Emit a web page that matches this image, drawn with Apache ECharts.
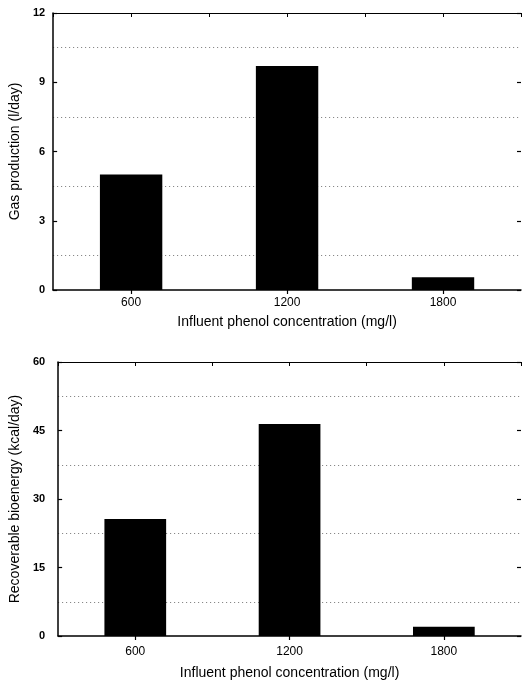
<!DOCTYPE html>
<html>
<head>
<meta charset="utf-8">
<script src="https://cdn.jsdelivr.net/npm/echarts@6/dist/echarts.min.js"></script>
<style>html,body{margin:0;padding:0;background:#fff;}#c{width:522px;height:681px;}</style>
</head>
<body>
<div id="c"></div>
<script>
var categories = ['600', '1200', '1800'];
var gasProduction = [5.0, 9.7, 0.55];
var bioenergy = [25.6, 46.4, 2.0];
var xAxisTitle = 'Influent phenol concentration (mg/l)';
var gasTitle = 'Gas production (l/day)';
var energyTitle = 'Recoverable bioenergy (kcal/day)';

var FONT = 'Liberation Sans';
var chart = echarts.init(document.getElementById('c'));

function bottomX(gi, margin, gap) {
  return {
    type: 'category', gridIndex: gi, data: categories, position: 'bottom',
    axisLine: {show: true, onZero: false, lineStyle: {color: '#000', width: 1.5}},
    axisTick: {show: true, alignWithLabel: true, inside: false, length: 4, lineStyle: {color: '#000', width: 1.2}},
    axisLabel: {color: '#000', fontFamily: FONT, fontSize: 12, margin: margin},
    splitLine: {show: false},
    name: xAxisTitle, nameLocation: 'middle', nameGap: gap,
    nameTextStyle: {color: '#000', fontFamily: FONT, fontSize: 14}
  };
}
function topX(gi) {
  return {
    type: 'value', gridIndex: gi, position: 'top', min: 0, max: 6, interval: 1,
    axisLine: {show: true, onZero: false, lineStyle: {color: '#000', width: 1.2}},
    axisTick: {show: true, inside: true, length: 4, lineStyle: {color: '#000'}},
    axisLabel: {show: false}, splitLine: {show: false}
  };
}
function leftY(gi, max, interval, margin, name, gap) {
  return {
    type: 'value', gridIndex: gi, position: 'left', min: 0, max: max, interval: interval,
    axisLine: {show: true, onZero: false, lineStyle: {color: '#000', width: 1.5}},
    axisTick: {show: true, inside: true, length: 4, lineStyle: {color: '#000', width: 1.2}},
    axisLabel: {color: '#000', fontFamily: FONT, fontSize: 11, fontWeight: 'bold', margin: margin},
    splitLine: {show: false},
    minorTick: {show: false, splitNumber: 2},
    minorSplitLine: {show: true, lineStyle: {color: '#777', type: [1, 3], width: 1}},
    name: name, nameLocation: 'middle', nameGap: gap, nameRotate: 90,
    nameTextStyle: {color: '#000', fontFamily: FONT, fontSize: 14}
  };
}
function rightY(gi, max, interval) {
  return {
    type: 'value', gridIndex: gi, position: 'right', min: 0, max: max, interval: interval,
    axisLine: {show: false, onZero: false},
    axisTick: {show: true, inside: true, length: 4, lineStyle: {color: '#000', width: 1.2}},
    axisLabel: {show: false}, splitLine: {show: false}
  };
}

chart.setOption({
  animation: false,
  backgroundColor: '#fff',
  grid: [
    {left: 53, top: 13, right: 1, height: 277, containLabel: false},
    {left: 58, top: 362, right: 1, height: 274, containLabel: false}
  ],
  xAxis: [bottomX(0, 7, 25), topX(0), bottomX(1, 10, 30), topX(1)],
  yAxis: [leftY(0, 12, 3, 8, gasTitle, 27), rightY(0, 12, 3), leftY(1, 60, 15, 13, energyTitle, 32), rightY(1, 60, 15)],
  series: [
    {type: 'bar', xAxisIndex: 0, yAxisIndex: 0, data: gasProduction, barWidth: '40%', itemStyle: {color: '#000'}},
    {type: 'bar', xAxisIndex: 2, yAxisIndex: 2, data: bioenergy, barWidth: '40%', itemStyle: {color: '#000'}}
  ]
});
</script>
</body>
</html>
